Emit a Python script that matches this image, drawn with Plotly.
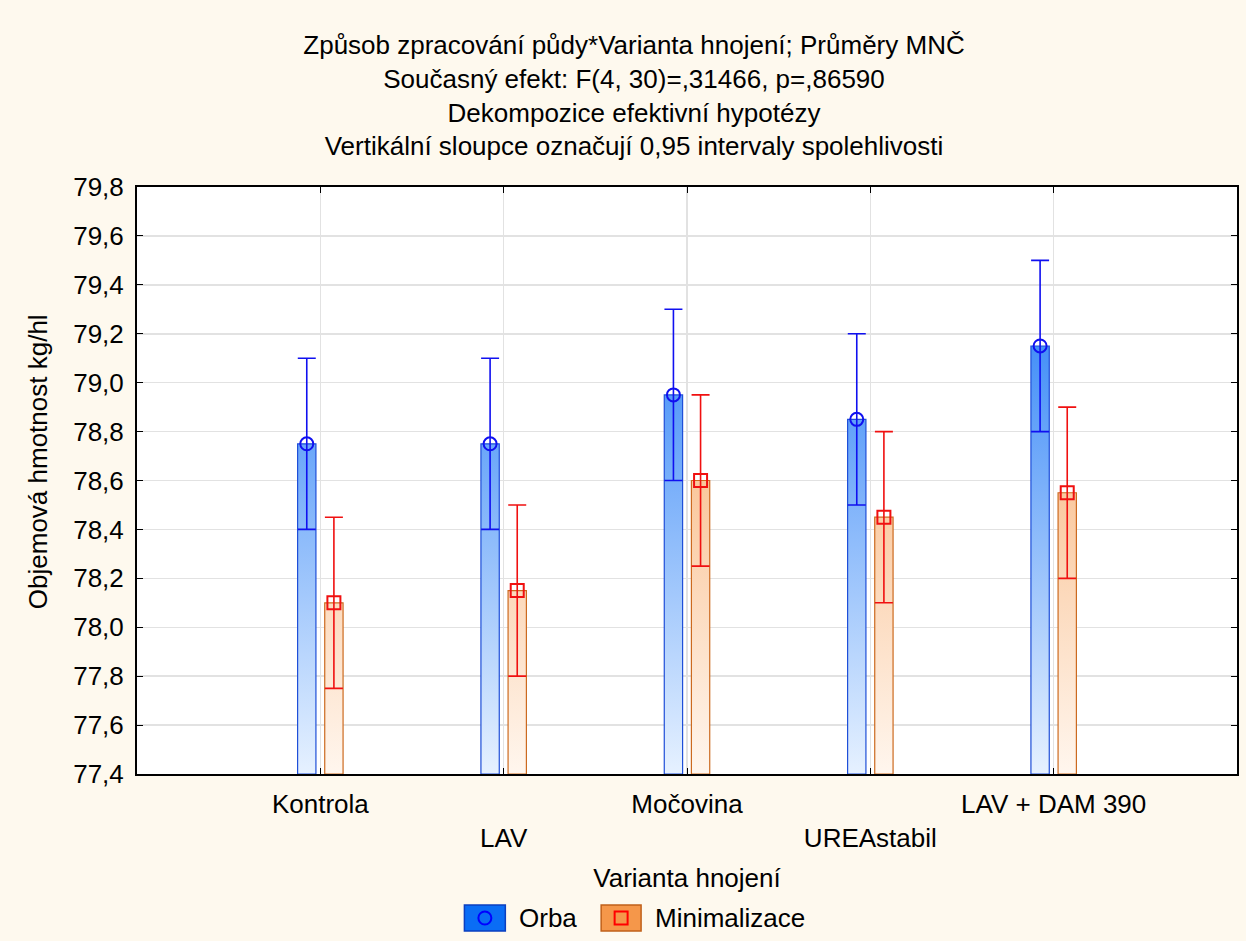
import plotly.graph_objects as go

# ---- data ----
categories = ["Kontrola", "LAV", "Močovina", "UREAstabil", "LAV + DAM 390"]
tick_labels = ["Kontrola", "<br>LAV", "Močovina", "<br>UREAstabil", "LAV + DAM 390"]
orba_mean = [78.75, 78.75, 78.95, 78.85, 79.15]
orba_ci = [0.35, 0.35, 0.35, 0.35, 0.35]
mini_mean = [78.10, 78.15, 78.60, 78.45, 78.55]
mini_ci = [0.35, 0.35, 0.35, 0.35, 0.35]
series_names = ["Orba", "Minimalizace"]
y_ticks = [77.4, 77.6, 77.8, 78.0, 78.2, 78.4, 78.6, 78.8, 79.0, 79.2, 79.4, 79.6, 79.8]

title_lines = [
    "Způsob zpracování půdy*Varianta hnojení; Průměry MNČ",
    "Současný efekt: F(4, 30)=,31466, p=,86590",
    "Dekompozice efektivní hypotézy",
    "Vertikální sloupce označují 0,95 intervaly spolehlivosti",
]
x_title = "Varianta hnojení"
y_title = "Objemová hmotnost kg/hl"

# ---- style ----
Y_MIN, Y_MAX = y_ticks[0], y_ticks[-1]
BAR_W = 0.10
OFFSETS = [-0.074, 0.074]
FONT = "Liberation Sans, Arial, sans-serif"
FS = 26
PAPER = "#FEF9EE"
W, H = 1246, 941
L, R, T, B = 137, 7, 187, 167
PW, PH = W - L - R, H - T - B

styles = [
    dict(fill_lo="#E6F1FF", fill_hi="#0A6CF5", outline="#1F4FD8", err="#1010F0",
         symbol="circle-open", legend_fill="#0A6DF5", legend_line="#0B3FC0"),
    dict(fill_lo="#FFF6EE", fill_hi="#F5984A", outline="#CC6A1F", err="#F01010",
         symbol="square-open", legend_fill="#F5974A", legend_line="#C0601A"),
]

fig = go.Figure()

for s, (means, cis) in enumerate([(orba_mean, orba_ci), (mini_mean, mini_ci)]):
    st = styles[s]
    off = OFFSETS[s]
    xs, ys = [], []
    for i, v in enumerate(means):
        x0, x1 = i + off - BAR_W / 2, i + off + BAR_W / 2
        xs += [x0, x1, x1, x0, x0, None]
        ys += [Y_MIN, Y_MIN, v, v, Y_MIN, None]
    fig.add_trace(go.Scatter(
        x=xs, y=ys, mode="lines", fill="toself",
        fillgradient=dict(type="vertical", start=Y_MIN, stop=Y_MAX,
                          colorscale=[[0, st["fill_lo"]], [1, st["fill_hi"]]]),
        line=dict(color=st["outline"], width=1.2),
        name=series_names[s], showlegend=False, hoverinfo="skip",
    ))
    fig.add_trace(go.Scatter(
        x=[i + off for i in range(len(categories))], y=means,
        mode="markers", name=series_names[s], showlegend=False,
        marker=dict(symbol=st["symbol"], size=13, color=st["err"],
                    line=dict(width=2, color=st["err"])),
        error_y=dict(type="data", array=cis, visible=True, color=st["err"],
                     thickness=1.6, width=9),
    ))


def px_x(px):
    return (px - L) / PW


def px_y(py):
    return (H - B - py) / PH


# custom legend (swatch with marker inside, as in the reference)
shapes = []
annotations = []
legend_items = [(465, 506, 518), (602, 642, 654)]
for s, (sx0, sx1, tx) in enumerate(legend_items):
    st = styles[s]
    shapes.append(dict(type="rect", xref="paper", yref="paper",
                       x0=px_x(sx0), x1=px_x(sx1), y0=px_y(931), y1=px_y(905),
                       fillcolor=st["legend_fill"], line=dict(color=st["legend_line"], width=1.5)))
    cx = (sx0 + sx1) / 2
    if s == 0:
        shapes.append(dict(type="circle", xref="paper", yref="paper",
                           x0=px_x(cx - 6.5), x1=px_x(cx + 6.5), y0=px_y(924.5), y1=px_y(911.5),
                           line=dict(color="#0000FF", width=2)))
    else:
        shapes.append(dict(type="rect", xref="paper", yref="paper",
                           x0=px_x(cx - 6.5), x1=px_x(cx + 6.5), y0=px_y(924.5), y1=px_y(911.5),
                           line=dict(color="#FF0000", width=2)))
    annotations.append(dict(text=series_names[s], xref="paper", yref="paper",
                            x=px_x(tx), y=px_y(918), xanchor="left", yanchor="middle",
                            showarrow=False, font=dict(family=FONT, size=FS, color="black")))

# y-axis title (placed like the reference, slightly above the plot centre)
annotations.append(dict(text=y_title, xref="paper", yref="paper",
                        x=px_x(38), y=px_y(462), xanchor="center", yanchor="middle",
                        textangle=-90, showarrow=False,
                        font=dict(family=FONT, size=FS, color="black")))

fig.update_layout(
    width=W, height=H,
    margin=dict(l=L, r=R, t=T, b=B, pad=0),
    paper_bgcolor=PAPER, plot_bgcolor="white",
    separators=", ",
    font=dict(family=FONT, size=FS, color="black"),
    title=dict(text="<br>".join(title_lines), x=634 / W, xanchor="center",
               xref="container", y=1 - 54 / H, yanchor="top", yref="container",
               font=dict(family=FONT, size=FS, color="black")),
    showlegend=False,
    shapes=shapes,
    annotations=annotations,
)

fig.update_xaxes(
    range=[-1, 5], tickmode="array", tickvals=list(range(len(categories))),
    ticktext=tick_labels, ticks="inside", ticklen=6, tickcolor="black",
    showline=True, linecolor="black", linewidth=2, mirror="ticks",
    showgrid=True, gridcolor="#E2E2E2", gridwidth=1.5, zeroline=False,
    ticklabelstandoff=6,
    title=dict(text=x_title, standoff=17, font=dict(size=FS)),
    tickfont=dict(size=FS),
)
fig.update_yaxes(
    range=[Y_MIN, Y_MAX], tickmode="array", tickvals=y_ticks,
    ticktext=[f"{v:.1f}".replace(".", ",") for v in y_ticks],
    ticks="inside", ticklen=6, tickcolor="black",
    showline=True, linecolor="black", linewidth=2, mirror="ticks",
    showgrid=True, gridcolor="#E2E2E2", gridwidth=1.5, zeroline=False,
    ticklabelstandoff=6,
    tickfont=dict(size=FS),
)

page_js = ("document.documentElement.style.margin='0';"
           "document.body.style.margin='0';"
           "document.body.style.overflow='hidden';"
           "document.documentElement.style.background='" + PAPER + "';"
           "document.body.style.background='" + PAPER + "';")

fig.write_html("out.html", post_script=page_js,
               config={"displayModeBar": False, "staticPlot": True})
